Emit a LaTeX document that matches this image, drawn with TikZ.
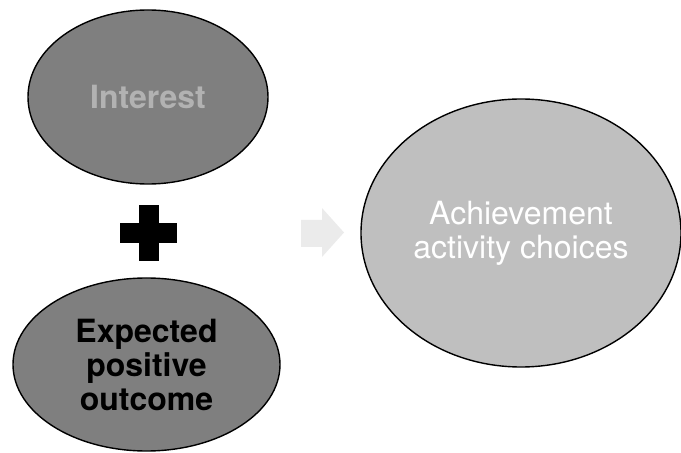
\documentclass[tikz,border=0pt]{standalone}
\usepackage{fontspec}
\setmainfont{TeX Gyre Heros}
\usetikzlibrary{shapes.geometric}
\definecolor{bubbledark}{RGB}{127,127,127}
\definecolor{bubblelight}{RGB}{191,191,191}
\definecolor{labelgray}{RGB}{178,178,178}
\definecolor{arrowgray}{RGB}{235,235,235}

\begin{document}
\begin{tikzpicture}[x=1pt, y=1pt,
    bubble/.style={ellipse, draw=black, line width=1.4pt, inner sep=0pt, align=center,
        font=\fontsize{32}{34}\selectfont}]
    \useasboundingbox (0, 0) rectangle (681, 453);

    % Ellipses
    \node[bubble, fill=bubbledark, text=labelgray, minimum width=240, minimum height=174,
        font=\fontsize{32}{34}\selectfont\bfseries] (interest) at (148, 356) {Interest};
    \node[bubble, fill=bubbledark, text=black, minimum width=267, minimum height=173,
        font=\fontsize{32}{34}\selectfont\bfseries] (outcome) at (146.5, 88.5) {Expected\\positive\\outcome};
    \node[bubble, fill=bubblelight, text=white, minimum width=320, minimum height=268] (choices) at (521, 220) {Achievement\\activity choices};

    % Plus sign
    \fill[black] (138.5, 248) rectangle (158.5, 192);
    \fill[black] (120, 230) rectangle (177, 210);

    % Arrow
    \fill[arrowgray] (301, 233) -- (322, 233) -- (322, 245) -- (344, 220.5)
        -- (322, 196) -- (322, 206) -- (301, 206) -- cycle;
\end{tikzpicture}
\end{document}
